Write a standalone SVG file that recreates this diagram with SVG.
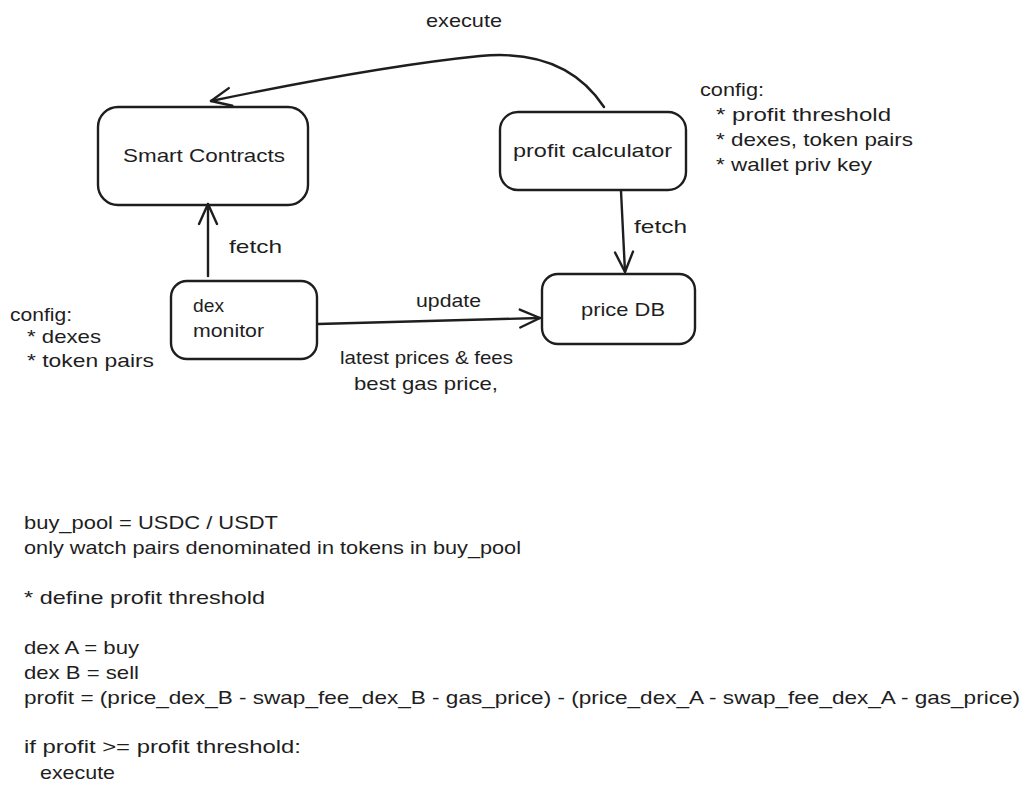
<svg xmlns="http://www.w3.org/2000/svg" width="1031" height="796" viewBox="0 0 1031 796">
<defs>
<style>
text{font-family:"Liberation Sans","DejaVu Sans",sans-serif;font-size:19px;fill:#1e1e1e}
.box{fill:none;stroke:#1e1e1e;stroke-width:2.4;stroke-linejoin:round}
.edge{fill:none;stroke:#1e1e1e;stroke-width:2.4;stroke-linecap:round}
</style>
<marker id="arr" viewBox="0 0 24 24" refX="22" refY="12" markerWidth="24" markerHeight="24" markerUnits="userSpaceOnUse" orient="auto">
<path d="M2 3 L22 12 L2 21" fill="none" stroke="#1e1e1e" stroke-width="2.4" stroke-linecap="round" stroke-linejoin="round"/>
</marker>
</defs>
<rect width="1031" height="796" fill="#ffffff"/>

<g id="smart-contracts">
<rect class="box" x="98" y="107" width="210" height="98" rx="20"/>
<text x="123" y="162" textLength="162" lengthAdjust="spacingAndGlyphs">Smart Contracts</text>
</g>
<g id="profit-calculator">
<rect class="box" x="500" y="112" width="186" height="78" rx="18"/>
<text x="513" y="157" textLength="159" lengthAdjust="spacingAndGlyphs">profit calculator</text>
</g>
<g id="price-db">
<rect class="box" x="542" y="274" width="153" height="70" rx="16"/>
<text x="581" y="316" textLength="84" lengthAdjust="spacingAndGlyphs">price DB</text>
</g>
<g id="dex-monitor">
<rect class="box" x="171" y="281" width="146" height="78" rx="16"/>
<text x="193" y="312" textLength="31" lengthAdjust="spacingAndGlyphs">dex</text>
<text x="193" y="337" textLength="71" lengthAdjust="spacingAndGlyphs">monitor</text>
</g>

<g id="connectors">
<path class="edge" d="M604 107 Q565 48 480 56 Q380 66 211 101" marker-end="url(#arr)"/>
<path class="edge" d="M208 276 L208 204" marker-end="url(#arr)"/>
<path class="edge" d="M621 191 L625 272" marker-end="url(#arr)"/>
<path class="edge" d="M318 324 L540 318" marker-end="url(#arr)"/>
<text x="426" y="27" textLength="76" lengthAdjust="spacingAndGlyphs">execute</text>
<text x="229" y="253" textLength="53" lengthAdjust="spacingAndGlyphs">fetch</text>
<text x="634" y="233" textLength="53" lengthAdjust="spacingAndGlyphs">fetch</text>
<text x="416" y="307" textLength="65" lengthAdjust="spacingAndGlyphs">update</text>
<text x="340" y="364" textLength="173" lengthAdjust="spacingAndGlyphs">latest prices &amp; fees</text>
<text x="354" y="390" textLength="144" lengthAdjust="spacingAndGlyphs">best gas price,</text>
</g>

<g id="config-left">
<text x="10" y="321" textLength="62" lengthAdjust="spacingAndGlyphs">config:</text>
<text x="27" y="343" textLength="74" lengthAdjust="spacingAndGlyphs">* dexes</text>
<text x="27" y="367" textLength="127" lengthAdjust="spacingAndGlyphs">* token pairs</text>
</g>
<g id="config-right">
<text x="700" y="96" textLength="64" lengthAdjust="spacingAndGlyphs">config:</text>
<text x="716" y="121" textLength="175" lengthAdjust="spacingAndGlyphs">* profit threshold</text>
<text x="716" y="146" textLength="197" lengthAdjust="spacingAndGlyphs">* dexes, token pairs</text>
<text x="716" y="171" textLength="156" lengthAdjust="spacingAndGlyphs">* wallet priv key</text>
</g>

<g id="notes">
<text x="24" y="529" textLength="254" lengthAdjust="spacingAndGlyphs">buy_pool = USDC / USDT</text>
<text x="24" y="554" textLength="497" lengthAdjust="spacingAndGlyphs">only watch pairs denominated in tokens in buy_pool</text>
<text x="24" y="604" textLength="241" lengthAdjust="spacingAndGlyphs">* define profit threshold</text>
<text x="24" y="654" textLength="115" lengthAdjust="spacingAndGlyphs">dex A = buy</text>
<text x="24" y="679" textLength="115" lengthAdjust="spacingAndGlyphs">dex B = sell</text>
<text x="24" y="704" textLength="996" lengthAdjust="spacingAndGlyphs">profit = (price_dex_B - swap_fee_dex_B - gas_price) - (price_dex_A - swap_fee_dex_A - gas_price)</text>
<text x="24" y="753" textLength="277" lengthAdjust="spacingAndGlyphs">if profit &gt;= profit threshold:</text>
<text x="40" y="779" textLength="75" lengthAdjust="spacingAndGlyphs">execute</text>
</g>
</svg>
